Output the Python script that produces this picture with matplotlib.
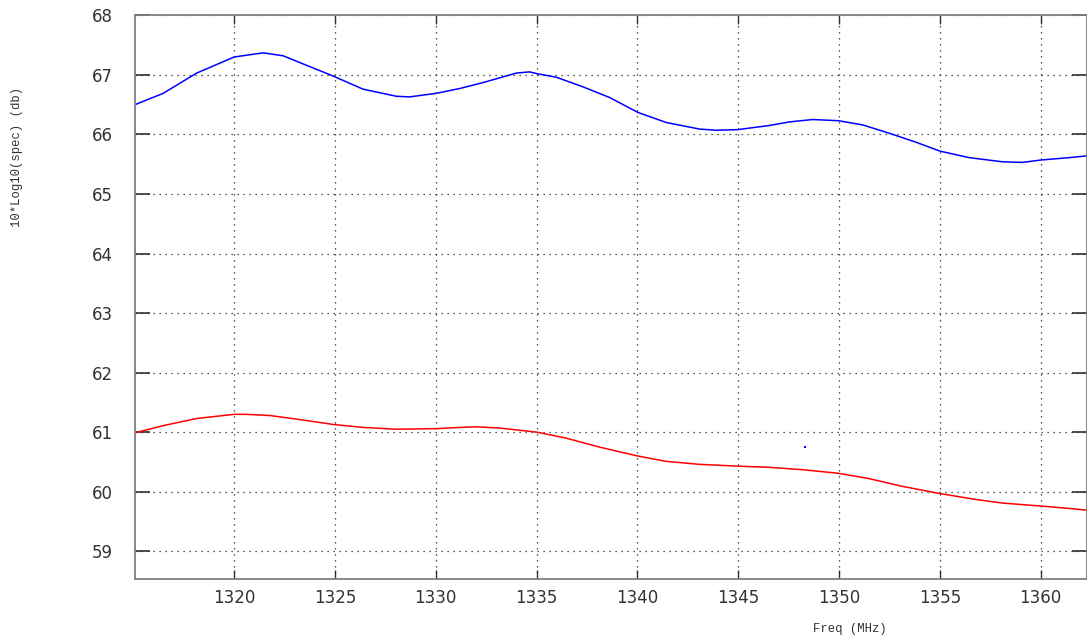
import matplotlib
matplotlib.use("Agg")
import matplotlib.pyplot as plt

# Spectrum traces: frequency (MHz) and power, 10*log10(spec) in dB
freq_upper = [1315.08, 1316.48, 1318.14, 1320.00, 1321.44, 1322.43, 1323.59, 1324.91,
              1326.39, 1328.05, 1328.70, 1330.03, 1331.18, 1332.34, 1334.00, 1334.65,
              1335.02, 1335.98, 1337.29, 1338.62, 1340.02, 1341.43, 1343.08, 1343.90,
              1344.97, 1346.55, 1347.54, 1348.69, 1349.97, 1351.17, 1352.49, 1353.81,
              1355.00, 1356.46, 1358.11, 1359.10, 1360.01, 1361.41, 1362.30]
db_upper = [66.50, 66.69, 67.03, 67.30, 67.37, 67.32, 67.16, 66.98,
            66.76, 66.64, 66.63, 66.69, 66.77, 66.87, 67.03, 67.05,
            67.02, 66.96, 66.80, 66.62, 66.37, 66.20, 66.09, 66.07,
            66.08, 66.15, 66.21, 66.25, 66.23, 66.16, 66.02, 65.87,
            65.72, 65.61, 65.54, 65.53, 65.57, 65.61, 65.64]

freq_lower = [1315.08, 1316.48, 1318.14, 1320.00, 1320.60, 1321.77, 1323.09, 1324.91,
              1326.39, 1328.05, 1330.03, 1331.18, 1332.01, 1333.17, 1335.02, 1336.47,
              1338.12, 1340.02, 1341.43, 1343.08, 1344.97, 1346.55, 1348.20, 1349.97,
              1351.50, 1353.15, 1355.00, 1356.79, 1358.11, 1360.01, 1361.41, 1362.30]
db_lower = [60.99, 61.11, 61.23, 61.30, 61.30, 61.28, 61.22, 61.13,
            61.08, 61.05, 61.06, 61.08, 61.09, 61.07, 61.00, 60.90,
            60.75, 60.60, 60.51, 60.46, 60.43, 60.41, 60.37, 60.31,
            60.22, 60.09, 59.97, 59.87, 59.81, 59.76, 59.72, 59.69]

# isolated sample of the upper trace
stray_freq = [1348.33]
stray_db = [60.75]

x_ticks = [1320, 1325, 1330, 1335, 1340, 1345, 1350, 1355, 1360]
y_ticks = [59, 60, 61, 62, 63, 64, 65, 66, 67, 68]

fig = plt.figure(figsize=(10.87, 6.39), dpi=100)
ax = fig.add_axes([135 / 1087, 59.7 / 639, 1 - 135 / 1087, (579.3 - 15.3) / 639])

ax.plot(freq_upper, db_upper, color="#0000ff", lw=1.1)
ax.plot(freq_lower, db_lower, color="#ff0000", lw=1.1)
ax.plot(stray_freq, stray_db, ls="none", marker="s", ms=1.5, color="#0000ff", mew=0)

ax.set_xlim(1315.08, 1362.3)
ax.set_ylim(58.53, 68.0)
ax.set_xticks(x_ticks)
ax.set_yticks(y_ticks)

ax.grid(True, color="#202020", lw=0.9, linestyle=(0, (1, 3.8)))
ax.set_axisbelow(True)

for side in ("left", "top", "bottom", "right"):
    ax.spines[side].set_color("#808080")
    ax.spines[side].set_linewidth(1.3)

ax.tick_params(axis="y", direction="in", length=11, width=1.2, color="#303030",
               left=True, right=True, labelsize=12, labelcolor="#333333", pad=16)
ax.tick_params(axis="x", direction="in", length=6.5, width=1.0, color="#303030",
               bottom=True, top=True, labelsize=12, labelcolor="#333333", pad=7)

fig.text(850 / 1087, 1 - 629 / 639, "Freq (MHz)", family="Liberation Mono",
         fontsize=8.8, color="#333333", ha="center", va="center")
fig.text(17 / 1087, 1 - 157 / 639, "10*Log10(spec) (db)", family="Liberation Mono",
         fontsize=8.8, color="#333333", ha="center", va="center", rotation=90)

fig.savefig("out.png", dpi=100)
